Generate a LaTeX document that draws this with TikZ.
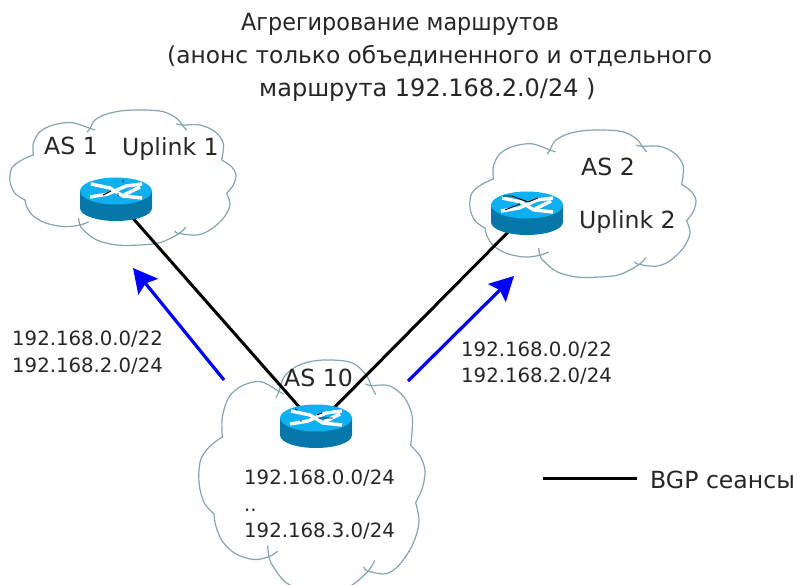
\documentclass[tikz,border=0pt]{standalone}
\usepackage{fontspec}
\setmainfont{DejaVu Sans}
\usetikzlibrary{arrows.meta}
\definecolor{cloudc}{HTML}{86A4AC}
\definecolor{rtop}{HTML}{0FB0F2}
\definecolor{rside}{HTML}{0577A8}
\definecolor{txtc}{HTML}{262626}
\tikzset{
 cloudline/.style={draw=cloudc,line width=1.2pt,line cap=round},
 lbl/.style={anchor=base west,inner sep=0pt,text=txtc,font=\fontsize{19.7}{23}\selectfont},
 lblbig/.style={lbl,font=\fontsize{23.6}{28}\selectfont},
 session/.style={draw=black,line width=3pt},
 adv/.style={draw=blue,line width=3.2pt,-{Stealth[length=24pt,width=25pt,inset=4pt]}},
 rnode/.style={circle,inner sep=0pt,minimum size=0pt},
 rx/.style={draw=white,line width=3.4pt},
 speck/.style={draw=black,line width=0.9pt},
}
\newcommand{\cloudshape}{%
 \draw[cloudline] plot[smooth,tension=.55] coordinates {(262,66)(270,55)(285,30)(320,12)(370,2)(430,0)(490,5)(530,25)(548,47)(560,60)};
 \draw[cloudline] plot[smooth,tension=.55] coordinates {(530,42)(548,45)(600,45)(645,65)(670,100)(665,150)};
 \draw[cloudline] plot[smooth,tension=.55] coordinates {(665,150)(695,170)(708,195)(700,225)(680,250)};
 \draw[cloudline] plot[smooth,tension=.55] coordinates {(680,250)(690,285)(670,325)(630,360)(590,375)(535,370)(525,363)};
 \draw[cloudline] plot[smooth,tension=.55] coordinates {(557,352)(535,372)(480,398)(420,405)(350,405)(290,390)(250,360)(240,345)(236,326)};
 \draw[cloudline] plot[smooth,tension=.55] coordinates {(265,336)(240,345)(195,350)(140,340)(100,318)(80,290)(75,270)};
 \draw[cloudline] plot[smooth,tension=.55] coordinates {(75,270)(45,250)(30,215)(35,175)(65,150)(100,135)};
 \draw[cloudline] plot[smooth,tension=.55] coordinates {(100,135)(100,100)(120,65)(160,45)(215,38)(270,55)(285,60)};
}
\newcommand{\routershape}[2]{%
 \begin{scope}[shift={(#1,#2)}]
  \fill[rside] (-36,-8) -- (-36,9) .. controls (-36,17) and (-18,22) .. (0,22) .. controls (18,22) and (36,17) .. (36,9) -- (36,-8) -- cycle;
  \fill[rtop] (0,-8) ellipse [x radius=36pt,y radius=13.5pt];
  \draw[rx] (-26,-2) -- (-8,-5) -- (10,-13) -- (26,-15);
  \draw[rx] (-25,-15) -- (-6,-11) -- (7,-3) -- (26,-1);
  \draw[rx] (8,-4) -- (24,-12);
 \end{scope}}
\begin{document}
\begin{tikzpicture}[x=1pt,y=-1pt]
\useasboundingbox (0,0) rectangle (797,585);
\clip (0,0) rectangle (797,585);
\fill[white] (0,0) rectangle (797,585);
\begin{scope}[shift={(0,110)},x=0.3333pt,y=-0.3333pt]\cloudshape\end{scope}
\begin{scope}[shift={(460,130)},x=0.3333pt,y=-0.3630pt]\cloudshape\end{scope}
\begin{scope}[shift={(189,360)},x=0.3333pt,y=-0.5700pt]\cloudshape\end{scope}
\node[rnode] (r1) at (116,199) {};
\node[rnode] (r2) at (527,213) {};
\node[rnode] (r3) at (316,426) {};
\coordinate (l1a) at (224,380); \coordinate (l1b) at (133,268);
\coordinate (l2a) at (408,381); \coordinate (l2b) at (514,276);
\coordinate (lga) at (543,478); \coordinate (lgb) at (637,478);
\draw[session] (r1) -- (r3);
\draw[session] (r2) -- (r3);
\draw[adv] (l1a) -- (l1b);
\draw[adv] (l2a) -- (l2b);
\draw[session] (lga) -- (lgb);
\routershape{116}{199}
\routershape{527}{213}
\routershape{316}{426}
\draw[speck] (122,181) -- (124,181) (103,195) -- (111,191) (118,193) -- (118,196);
\draw[speck] (503,196) -- (512,196) -- (528,202) -- (538,198) (505,210) -- (520,204);
\draw[speck] (295,409) -- (297,410) (300,421) -- (302,421) (317,415) -- (322,413) (318,418) -- (333,418);
\node[lbl,font=\fontsize{23.6}{28}\selectfont,xscale=0.945] (t1) at (241,31) {Агрегирование маршрутов};
\node[lbl,font=\fontsize{23.3}{28}\selectfont] (t2) at (167,64) {(анонс только объединенного и отдельного};
\node[lbl,font=\fontsize{24}{28}\selectfont] (t3) at (259,97) {маршрута 192.168.2.0/24 )};
\node[lblbig] (a1) at (44,155) {AS 1};
\node[lblbig] (u1) at (122,156) {Uplink 1};
\node[lblbig] (a2) at (581,176) {AS 2};
\node[lblbig] (u2) at (579,229) {Uplink 2};
\node[lblbig] (a3) at (284,386) {AS 10};
\node[lbl] (p1) at (12,345) {192.168.0.0/22};
\node[lbl] (p2) at (12,372) {192.168.2.0/24};
\node[lbl] (q1) at (461,356) {192.168.0.0/22};
\node[lbl] (q2) at (461,382) {192.168.2.0/24};
\node[lbl] (n1) at (244,484) {192.168.0.0/24};
\node[lbl] (n2) at (244,511) {..};
\node[lbl] (n3) at (244,537) {192.168.3.0/24};
\node[lblbig] (bg) at (650,488) {BGP сеансы};
\end{tikzpicture}
\end{document}
